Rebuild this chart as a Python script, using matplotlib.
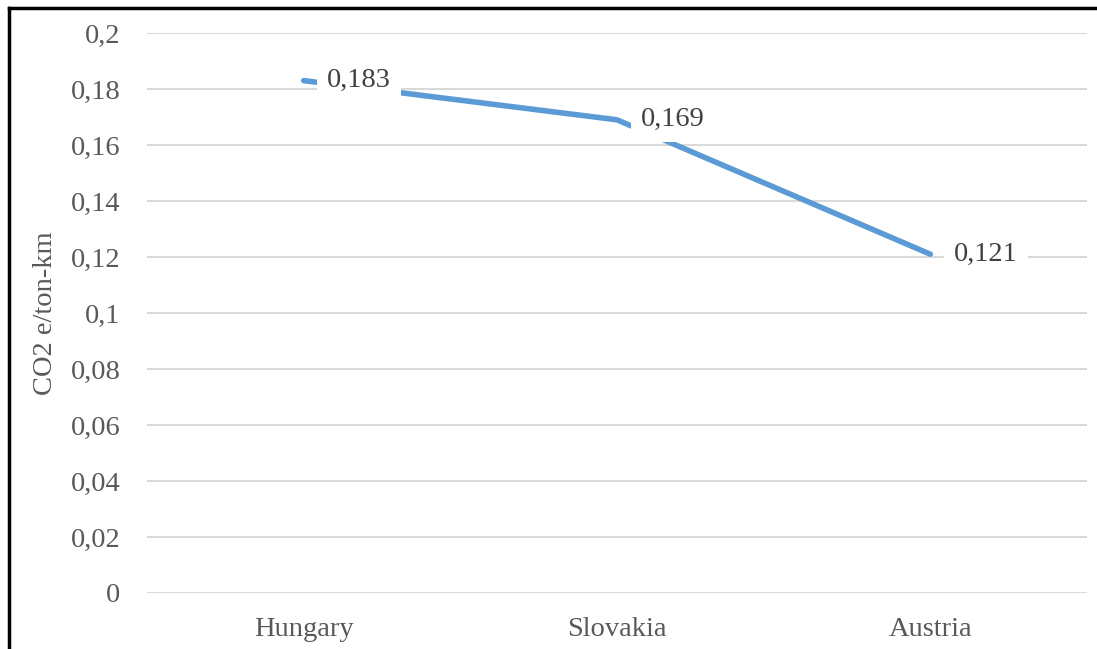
import matplotlib.pyplot as plt
from matplotlib.lines import Line2D

plt.rcParams['font.family'] = ['Liberation Serif', 'DejaVu Serif']

countries = ['Hungary', 'Slovakia', 'Austria']
emissions = [0.183, 0.169, 0.121]
yticks = [0, 0.02, 0.04, 0.06, 0.08, 0.1, 0.12, 0.14, 0.16, 0.18, 0.2]

W, H = 1097, 649
fig = plt.figure(figsize=(W / 100, H / 100), dpi=100)
ax = fig.add_axes([147 / W, 1 - 593 / H, (1087 - 147) / W, (593 - 33) / H])

fs = 20.5
grey = '#595959'

ax.set_xlim(-0.5, len(countries) - 0.5)
ax.set_ylim(0, 0.2)
ax.set_yticks(yticks)
ax.set_yticklabels([('%g' % v).replace('.', ',') for v in yticks], fontsize=fs, color=grey)
ax.set_xticks(range(len(countries)))
ax.set_xticklabels(countries, fontsize=fs, color=grey)
ax.tick_params(axis='y', length=0, pad=19)
ax.tick_params(axis='x', length=0, pad=17)
ax.grid(axis='y', color='#d9d9d9', linewidth=1.5)
ax.set_axisbelow(True)
for s in ax.spines.values():
    s.set_visible(False)

ax.set_ylabel('CO2 e/ton-km', fontsize=fs, color=grey, labelpad=9)

ax.plot(range(len(countries)), emissions, color='#5b9bd5', linewidth=4,
        solid_capstyle='round', zorder=2)

for i, v in enumerate(emissions):
    ax.annotate(('%.3f' % v).replace('.', ','), (i, v), xytext=(17, 0),
                textcoords='offset points', ha='left', va='center',
                fontsize=fs, color='#404040', zorder=3,
                bbox=dict(boxstyle='square,pad=0.35', fc='white', ec='none'))

# outer frame
fig.add_artist(Line2D([9 / W, 1], [1 - 8 / H, 1 - 8 / H], color='black', linewidth=2.5))
fig.add_artist(Line2D([9 / W, 9 / W], [0, 1 - 8 / H], color='black', linewidth=2.5))

fig.savefig('out.png', dpi=100)
